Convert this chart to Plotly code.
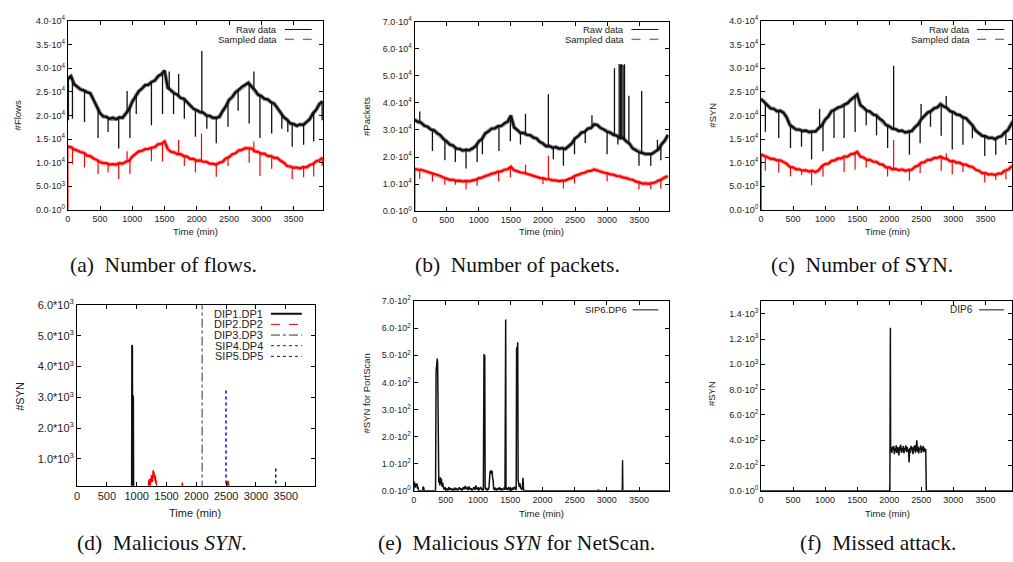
import plotly.graph_objects as go

W, H = 1013, 562


def fx(p):
    return p / W


def fy(p):
    return 1 - p / H


# ---------------- data ----------------
TIME_STEP_MIN = 50
TIME = [i * TIME_STEP_MIN for i in range(80)]  # 0 .. 3950 min

flows_raw = [27800, 28300, 26600, 26100, 25500, 25300, 24900, 24700, 23300, 21900,
             20500, 19800, 19700, 19300, 19500, 19200, 19600, 19500, 20400, 21300,
             22900, 24100, 25100, 25700, 26400, 26500, 27100, 27400, 28300, 28700,
             29500, 25900, 25300, 24700, 24400, 23700, 23500, 22800, 22300, 21400,
             21100, 20700, 20600, 20000, 19900, 19500, 19500, 19700, 20900, 21900,
             23300, 23900, 24900, 25400, 26100, 26500, 26900, 26100, 25400, 24400,
             24100, 23500, 23400, 22800, 22500, 21600, 20700, 19600, 19100, 18300,
             18200, 17800, 18100, 18000, 18600, 19200, 20400, 21200, 22400, 23000]
flows_sampled = [13400, 13300, 12800, 12600, 12200, 12100, 11500, 11400, 10900, 10600,
                 10100, 9900, 9900, 9600, 9700, 9600, 9900, 9800, 10200, 10400,
                 11300, 11800, 12400, 12500, 12900, 12900, 13200, 13300, 13900, 14000,
                 14500, 12900, 12300, 12200, 11800, 11800, 11400, 11300, 10800, 10800,
                 10400, 10500, 10200, 10200, 9800, 9800, 9600, 10000, 10200, 10900,
                 11200, 11800, 12000, 12600, 12700, 13100, 13000, 13000, 12400, 12300,
                 11900, 11900, 11400, 11400, 11000, 11000, 10400, 10000, 9300, 9200,
                 8900, 9000, 8800, 9100, 9000, 9500, 9700, 10300, 10500, 11100]
packets_raw = [33800, 33000, 32700, 31600, 31200, 30200, 29900, 28800, 28200, 26600,
               25800, 24600, 24200, 23100, 23000, 22400, 22700, 22500, 23200, 24000,
               25800, 26700, 28700, 29400, 30500, 30600, 31400, 31500, 32500, 33100,
               35300, 31000, 30000, 28900, 28900, 28200, 28100, 27200, 26900, 25600,
               25000, 24000, 24100, 23400, 23700, 23100, 23300, 23000, 24000, 25000,
               26900, 27700, 29000, 29300, 30500, 30800, 32100, 31800, 30700, 30200,
               29300, 29000, 28200, 27900, 27000, 27000, 25800, 24900, 23200, 22600,
               21700, 21500, 21100, 21100, 21200, 22000, 22800, 24700, 26100, 28200]
packets_sampled = [15700, 15300, 15300, 14900, 14700, 14100, 13900, 13300, 13100, 12400,
                   12100, 11600, 11600, 11200, 11300, 11000, 11200, 11000, 11400, 11600,
                   12200, 12400, 13000, 13300, 13900, 14100, 14600, 14700, 15300, 15500,
                   16400, 15100, 14800, 14300, 14200, 13800, 13600, 13000, 12800, 12300,
                   12200, 11800, 11800, 11400, 11400, 11100, 11300, 11300, 11900, 12300,
                   13100, 13400, 14000, 14200, 14800, 14900, 15400, 15000, 14800, 14200,
                   14100, 13600, 13500, 13000, 12900, 12400, 12300, 11800, 11600, 10900,
                   10700, 10200, 10300, 10100, 10400, 10600, 11300, 11700, 12500, 12900]
syn_raw = [23500, 22900, 22300, 21500, 21400, 20900, 21000, 20600, 19600, 18000,
           17500, 17000, 17000, 16700, 16800, 16500, 16600, 16600, 17300, 17900,
           19100, 19800, 20900, 21200, 21700, 21800, 22300, 22600, 23300, 23800,
           24400, 22200, 21700, 21000, 20800, 20200, 20000, 19300, 18900, 18000,
           17700, 17200, 17100, 16700, 16800, 16400, 16600, 16700, 17500, 18100,
           19200, 19800, 20600, 20900, 21500, 21700, 22400, 21900, 21600, 20900,
           20700, 20200, 20100, 19600, 19400, 18600, 17900, 16800, 16300, 15700,
           15600, 15200, 15300, 15000, 15400, 15600, 16400, 16900, 18100, 19100]
syn_sampled = [11800, 11400, 11200, 10800, 10800, 10500, 10500, 10100, 9800, 9100,
               9000, 8600, 8600, 8300, 8400, 8100, 8300, 8000, 8400, 9300,
               9700, 9800, 10400, 10500, 10900, 10900, 11300, 11300, 11800, 11900,
               12300, 11300, 11100, 10600, 10600, 10200, 10200, 9700, 9600, 9000,
               9000, 8600, 8700, 8400, 8600, 8300, 8500, 8500, 9100, 9400,
               10000, 10100, 10600, 10600, 11000, 11000, 11300, 10900, 10800, 10300,
               10400, 10000, 10000, 9600, 9600, 9200, 9100, 8500, 8300, 7800,
               7800, 7500, 7600, 7400, 7700, 7700, 8300, 8500, 9100, 9300]

# short spikes: time, level before the spike, spike extreme
flows_raw_spk_t = [10, 73, 260, 470, 625, 790, 920, 964, 1062, 1297, 1469, 1573, 1640, 1719, 1807, 1979,
                   2078, 2156, 2302, 2484, 2641, 2812, 2885, 2979, 3161, 3318, 3411, 3479, 3656, 3812, 3943]
flows_raw_spk_from = [27800, 27300, 25300, 21700, 19600, 19500, 20600, 21800, 24300, 27100, 28900, 25700,
                      24800, 24200, 23300, 21200, 20600, 20100, 19500, 23000, 25100, 26700, 25600, 24200,
                      22600, 20300, 19000, 18200, 18000, 20700, 22900]
flows_raw_spk_to = [19000, 19300, 18600, 15200, 16500, 13000, 25200, 15200, 20300, 17900, 20300, 29300,
                    20300, 28800, 19300, 15500, 33650, 17200, 14100, 17600, 21000, 18300, 29300, 15200,
                    16200, 17200, 16500, 13400, 13800, 14500, 19000]
flows_smp_spk_t = [3, 73, 260, 470, 625, 790, 920, 964, 1297, 1469, 1719, 1807, 1979, 2073, 2302, 2484,
                   2812, 2885, 2979, 3161, 3479, 3656, 3812, 3943]
flows_smp_spk_from = [13400, 13200, 12100, 10500, 9700, 9800, 10200, 10700, 13100, 14200, 11800, 11500,
                      10600, 10400, 9700, 11100, 13100, 12800, 12100, 11200, 9000, 8950, 9800, 10900]
flows_smp_spk_to = [0, 9650, 9000, 7600, 7900, 6550, 12400, 7600, 10300, 10300, 14800, 9300,
                    7900, 16200, 7000, 9300, 10000, 14500, 7200, 8700, 6550, 6900, 7100, 9300]

packets_raw_spk_t = [79, 277, 471, 634, 801, 974, 1056, 1314, 1492, 1649, 1728, 2084, 2162, 2319, 2492, 2660,
                     2764, 3000, 3115, 3168, 3188, 3208, 3228, 3250, 3272, 3340, 3497, 3539, 3681, 3785, 3838]
packets_raw_spk_from = [33000, 29900, 26200, 23700, 22500, 24800, 27200, 31300, 34000, 29100, 28500, 24000,
                        23600, 23100, 26500, 29600, 31800, 29400, 28300, 27800, 27500, 27400, 27200, 26900,
                        26700, 25500, 21800, 21500, 21000, 22300, 23900]
packets_raw_spk_to = [36800, 22200, 18800, 18200, 15800, 18200, 21000, 22200, 25800, 24600, 36000, 43200,
                      19200, 16800, 21000, 25200, 35400, 21000, 52800, 24600, 54400, 54200, 54400, 54000,
                      54300, 42600, 16800, 44400, 16800, 26400, 18800]
packets_smp_spk_t = [3, 79, 277, 471, 634, 801, 974, 1309, 1492, 1728, 2000, 2084, 2319, 2492, 3000, 3497,
                     3681, 3838]
packets_smp_spk_from = [15700, 15200, 13800, 12300, 11400, 11100, 11900, 14500, 16000, 14000, 12100, 11800,
                        11200, 12800, 14000, 10700, 10200, 11700]
packets_smp_spk_to = [0, 12000, 11000, 9800, 9800, 8000, 9400, 11000, 12500, 17200, 10000, 20400,
                      8400, 10200, 11000, 8000, 8200, 8300]

syn_raw_spk_t = [68, 277, 460, 632, 789, 914, 967, 1139, 1296, 1468, 1641, 1802, 1975, 2069, 2315, 2482,
                 2497, 2644, 2811, 2889, 2983, 3150, 3297, 3490, 3662, 3819]
syn_raw_spk_from = [22800, 20900, 17900, 16900, 16500, 17400, 18400, 21100, 22200, 24000, 21100, 19900,
                    18000, 17300, 16600, 18800, 19000, 21000, 22300, 21800, 20800, 19700, 17900, 15600,
                    15100, 16600]
syn_raw_spk_to = [16550, 15200, 13100, 13400, 10700, 21400, 12400, 15200, 15200, 16500, 17900, 15800,
                  13100, 30500, 11700, 14100, 22400, 17600, 15700, 24100, 12800, 13800, 15200, 11400,
                  11700, 13800]
syn_smp_spk_t = [3, 68, 277, 460, 632, 789, 967, 1296, 1468, 1641, 1975, 2069, 2315, 2482, 2811, 2889,
                 2983, 3150, 3490, 3662, 3819]
syn_smp_spk_from = [11800, 11400, 10500, 9100, 8500, 8200, 9400, 11200, 12100, 10700, 9000, 8700,
                    8400, 9700, 11200, 10800, 10300, 9700, 7700, 7500, 8000]
syn_smp_spk_to = [0, 8300, 7900, 7100, 7400, 5200, 7000, 8000, 8500, 9000, 7100, 14800,
                  6200, 7800, 8300, 12000, 7500, 8000, 5800, 6400, 6500]

# (d) malicious SYN per flow aggregate
dip1_t = [0, 918, 922, 926, 930, 934, 938, 942, 946, 950, 3990]
dip1_v = [0, 0, 4700, 4650, 400, 2300, 3060, 2950, 300, 0, 0]
dip2_t = [0, 1195, 1200, 1206, 1212, 1218, 1224, 1230, 1236, 1242, 1248, 1254, 1260, 1266, 1272, 1278,
          1284, 1290, 1296, 1302, 1308, 1314, 1320, 1326, 1332, 1340, 1750, 1758, 1766, 1774, 1782,
          2520, 2526, 2532, 2538, 2544, 3990]
dip2_v = [0, 0, 300, 120, 340, 180, 260, 90, 380, 230, 470, 300, 420, 250, 560, 630,
          430, 580, 350, 500, 280, 450, 200, 310, 150, 0, 0, 120, 230, 80, 0,
          0, 280, 180, 260, 0, 0]
dip3_t = [2097, 2097]
dip3_v = [0, 6500]
sip4_t = [2497, 2497]
sip4_v = [0, 3320]
sip5_t = [3331, 3331]
sip5_v = [0, 765]

# (e) SIP6.DP6
scan_t = [0, 5, 12, 20, 28, 36, 44, 52, 60, 68, 76, 140, 145, 155, 165, 340, 348, 354, 360, 366, 372,
          378, 384, 390, 398, 406, 414, 422, 430, 440, 450, 460,
          470, 485, 500, 515, 530, 545, 560, 575, 590, 605, 620, 635, 650, 665, 680, 695, 710, 725, 740,
          755, 770, 785, 800, 815, 830, 845, 860, 875, 890, 905, 920, 935, 950, 965, 980, 995, 1010,
          1025, 1040, 1055, 1070, 1082, 1086, 1092, 1098, 1104, 1110, 1120, 1130, 1140, 1150, 1160,
          1170, 1178, 1186, 1194, 1202, 1210, 1218, 1226, 1234, 1242, 1255, 1270, 1285, 1300, 1315,
          1330, 1345, 1360, 1375, 1390, 1405, 1418, 1424, 1429, 1434, 1445, 1460, 1475, 1490, 1505,
          1520, 1535, 1550, 1565, 1580, 1592, 1598, 1604, 1610, 1616, 1622, 1630, 1640, 1650, 1660,
          1670, 1680, 1690, 1698, 1705, 1712, 2860, 2870, 2880, 3240, 3244, 3248, 3990]
scan_v = [0, 35, 20, 30, 12, 25, 18, 28, 8, 15, 0, 0, 15, 12, 0, 0, 440, 462, 480, 488, 470,
          120, 95, 30, 42, 20, 50, 25, 45, 15, 30, 10,
          5, 12, 3, 9, 0, 14, 4, 10, 2, 8, 0, 12, 5, 10, 0, 7, 13, 3, 9,
          0, 14, 6, 18, 8, 12, 2, 16, 5, 10, 0, 8, 13, 4, 20, 6, 11, 2,
          9, 14, 3, 8, 0, 480, 505, 470, 500, 10, 5, 12, 0, 8, 4,
          15, 55, 72, 68, 76, 62, 74, 48, 40, 8, 3, 12, 0, 9, 4,
          13, 2, 10, 0, 7, 12, 3, 600, 632, 5, 10, 2, 14, 5, 9,
          0, 12, 4, 15, 8, 3, 520, 530, 510, 548, 40, 30, 15, 28, 8,
          12, 2, 20, 48, 10, 0, 0, 5, 0, 0, 113, 0, 0]

# (f) DIP6 (missed attack)
dip6_t = [0, 2010, 2018, 2022, 2030, 2040, 2050, 2060, 2070, 2080, 2090, 2100, 2110, 2120, 2130, 2140,
          2150, 2160, 2170, 2180, 2190, 2200, 2210, 2220, 2230, 2240, 2250, 2260, 2270, 2280, 2290,
          2300, 2310, 2320, 2330, 2340, 2350, 2360, 2370, 2380, 2390, 2400, 2410, 2420, 2430, 2440,
          2450, 2460, 2470, 2480, 2490, 2500, 2510, 2520, 2530, 2540, 2550, 2560, 2570, 2578, 3990]
dip6_v = [0, 0, 1290, 310, 340, 300, 350, 320, 355, 290, 340, 310, 360, 300, 345, 330,
          280, 350, 320, 365, 300, 340, 310, 355, 295, 340, 320, 360, 305, 345, 310,
          330, 225, 340, 300, 355, 320, 345, 290, 350, 315, 360, 300, 340, 400, 310,
          350, 295, 340, 325, 360, 300, 345, 315, 355, 305, 340, 320, 330, 0, 0]

X_TICKS = [0, 500, 1000, 1500, 2000, 2500, 3000, 3500]
Y_TICKS_A = [0, 5000, 10000, 15000, 20000, 25000, 30000, 35000, 40000]
Y_TEXT_A = ["0.0·10<sup>0</sup>", "5.0·10<sup>3</sup>", "1.0·10<sup>4</sup>", "1.5·10<sup>4</sup>",
            "2.0·10<sup>4</sup>", "2.5·10<sup>4</sup>", "3.0·10<sup>4</sup>", "3.5·10<sup>4</sup>",
            "4.0·10<sup>4</sup>"]
Y_TICKS_B = [0, 10000, 20000, 30000, 40000, 50000, 60000, 70000]
Y_TEXT_B = ["0.0·10<sup>0</sup>", "1.0·10<sup>4</sup>", "2.0·10<sup>4</sup>", "3.0·10<sup>4</sup>",
            "4.0·10<sup>4</sup>", "5.0·10<sup>4</sup>", "6.0·10<sup>4</sup>", "7.0·10<sup>4</sup>"]
Y_TICKS_D = [1000, 2000, 3000, 4000, 5000, 6000]
Y_TEXT_D = ["1.0*10<sup>3</sup>", "2.0*10<sup>3</sup>", "3.0*10<sup>3</sup>", "4.0*10<sup>3</sup>",
            "5.0*10<sup>3</sup>", "6.0*10<sup>3</sup>"]
Y_TICKS_E = [0, 100, 200, 300, 400, 500, 600, 700]
Y_TEXT_E = ["0.0·10<sup>0</sup>", "1.0·10<sup>2</sup>", "2.0·10<sup>2</sup>", "3.0·10<sup>2</sup>",
            "4.0·10<sup>2</sup>", "5.0·10<sup>2</sup>", "6.0·10<sup>2</sup>", "7.0·10<sup>2</sup>"]
Y_TICKS_F = [0, 200, 400, 600, 800, 1000, 1200, 1400]
Y_TEXT_F = ["0.0·10<sup>0</sup>", "2.0·10<sup>2</sup>", "4.0·10<sup>2</sup>", "6.0·10<sup>2</sup>",
            "8.0·10<sup>2</sup>", "1.0·10<sup>3</sup>", "1.2·10<sup>3</sup>", "1.4·10<sup>3</sup>"]

# ---------------- figure ----------------
SANS = "Liberation Sans, Arial, Helvetica, sans-serif"
SERIF = "Liberation Serif, Times New Roman, serif"
TXT = "#222222"
RED = "#ff0000"

fig = go.Figure()


def spikes(ts, fr, to):
    xs, ys = [], []
    for t, a, b in zip(ts, fr, to):
        xs += [t, t, None]
        ys += [a, b, None]
    return xs, ys


def add_line(x, y, ax, color, width, dash="solid"):
    fig.add_trace(go.Scatter(x=x, y=y, mode="lines", xaxis="x" + ax, yaxis="y" + ax,
                             line=dict(color=color, width=width, dash=dash),
                             showlegend=False, hoverinfo="skip"))


top = [("", flows_raw, flows_sampled,
        (flows_raw_spk_t, flows_raw_spk_from, flows_raw_spk_to),
        (flows_smp_spk_t, flows_smp_spk_from, flows_smp_spk_to)),
       ("2", packets_raw, packets_sampled,
        (packets_raw_spk_t, packets_raw_spk_from, packets_raw_spk_to),
        (packets_smp_spk_t, packets_smp_spk_from, packets_smp_spk_to)),
       ("3", syn_raw, syn_sampled,
        (syn_raw_spk_t, syn_raw_spk_from, syn_raw_spk_to),
        (syn_smp_spk_t, syn_smp_spk_from, syn_smp_spk_to))]

for ax, raw, smp, rs, ss in top:
    add_line(TIME, raw, ax, "#9a9a9a", 4.2)
    add_line(TIME, raw, ax, "#111111", 2.4)
    sx, sy = spikes(*rs)
    add_line(sx, sy, ax, "#111111", 1.3)
    add_line(TIME, smp, ax, "#ff9a9a", 4.0)
    add_line(TIME, smp, ax, RED, 2.2)
    sx, sy = spikes(*ss)
    add_line(sx, sy, ax, RED, 1.2)

add_line(dip2_t, dip2_v, "4", RED, 1.3)
add_line(dip1_t, dip1_v, "4", "#111111", 1.8)
add_line(dip3_t, dip3_v, "4", "#333333", 1.0, "dashdot")
add_line(sip4_t, sip4_v, "4", "#0000ff", 1.5, "dot")
add_line(sip5_t, sip5_v, "4", "#111111", 1.5, "dot")
add_line(scan_t, scan_v, "5", "#111111", 1.5)
add_line(dip6_t, dip6_v, "6", "#111111", 1.5)

# panel geometry in pixels: left, right, top, bottom
panels = {
    "": dict(x=(65, 321.5), y=(13.3, 206.7), xr=3960, yr=(0, 40000), yt=(Y_TICKS_A, Y_TEXT_A), fs=9),
    "2": dict(x=(413.3, 668.3), y=(14, 208), xr=3960, yr=(0, 70000), yt=(Y_TICKS_B, Y_TEXT_B), fs=9),
    "3": dict(x=(761, 1013), y=(13.3, 206.7), xr=3915, yr=(0, 40000), yt=(Y_TICKS_A, Y_TEXT_A), fs=9),
    "4": dict(x=(74.3, 313.3), y=(304, 489), xr=3990, yr=(127, 6000), yt=(Y_TICKS_D, Y_TEXT_D), fs=11),
    "5": dict(x=(412.3, 668.3), y=(300, 494.3), xr=3960, yr=(0, 700), yt=(Y_TICKS_E, Y_TEXT_E), fs=9),
    "6": dict(x=(761, 1013), y=(300, 494.3), xr=3915, yr=(0, 1500), yt=(Y_TICKS_F, Y_TEXT_F), fs=9),
}

layout = {}
for ax, p in panels.items():
    common = dict(showline=True, linecolor="black", linewidth=1, mirror="ticks", ticks="inside",
                  ticklen=4, tickwidth=1, tickcolor="black", showgrid=False, zeroline=False,
                  tickfont=dict(family=SANS, size=p["fs"], color=TXT), fixedrange=True)
    layout["xaxis" + ax] = dict(common, domain=[fx(p["x"][0]), fx(p["x"][1])], range=[0, p["xr"]],
                                tickvals=X_TICKS, ticktext=[str(v) for v in X_TICKS],
                                anchor="y" + ax)
    layout["yaxis" + ax] = dict(common, domain=[fy(p["y"][1]), fy(p["y"][0])], range=list(p["yr"]),
                                tickvals=p["yt"][0], ticktext=p["yt"][1], anchor="x" + ax)

annotations = []
shapes = []


def text(x, y, s, size, family=SANS, anchor="center", angle=0, color=TXT):
    annotations.append(dict(x=fx(x), y=fy(y), xref="paper", yref="paper", text=s, showarrow=False,
                            xanchor=anchor, yanchor="middle", textangle=angle,
                            font=dict(family=family, size=size, color=color)))


def legend_line(x0, x1, y, color, width, dash):
    shapes.append(dict(type="line", xref="paper", yref="paper", x0=fx(x0), x1=fx(x1), y0=fy(y), y1=fy(y),
                       line=dict(color=color, width=width, dash=dash)))


# axis titles
for cx, cy, s, fs in [(15, 110, "#Flows", 9.5), (365, 111, "#Packets", 9.5), (712, 110, "#SYN", 9.5),
                      (17, 397, "#SYN", 11), (365, 395, "#SYN for PortScan", 9.5), (712, 395, "#SYN", 9.5)]:
    text(cx, cy, s, fs, angle=-90)
for cx, cy, fs in [(193, 229, 9.5), (541, 229, 9.5), (888, 229, 9.5),
                   (193, 517, 11), (541, 517, 9.5), (888, 517, 9.5)]:
    text(cx, cy, "Time (min)", fs)

# legends (text, then line sample, gnuplot style)
for tx, lx0, lx1 in [(277, 283, 310), (625, 631, 658), (973, 978, 1005)]:
    text(tx, 22, "Raw data", 9.5, anchor="right")
    text(tx, 32, "Sampled data", 9.5, anchor="right")
    legend_line(lx0, lx1, 22, "#111111", 1, "solid")
    legend_line(lx0, lx1, 32, RED, 1, "dash")

leg_d = [("DIP1.DP1", "#111111", 2, "solid"), ("DIP2.DP2", RED, 1, "dash"),
         ("DIP3.DP3", "#333333", 1, "dashdot"), ("SIP4.DP4", "#0000ff", 1, "dot"),
         ("SIP5.DP5", "#111111", 1, "dot")]
for i, (name, col, wdt, dsh) in enumerate(leg_d):
    yy = 313 + i * 10.9
    text(263, yy, name, 11, anchor="right")
    legend_line(269, 300, yy, col, wdt, dsh)

text(628, 309, "SIP6.DP6", 9.5, anchor="right")
legend_line(632, 658, 309, "#111111", 1, "solid")
text(976, 309, "DIP6", 10, anchor="right")
legend_line(980, 1005, 309, "#111111", 1, "solid")

# captions
for cx, cy, s in [(161, 263, "(a)  Number of flows."), (517, 263, "(b)  Number of packets."),
                  (862, 263, "(c)  Number of SYN."), (160, 548, "(d)  Malicious <i>SYN</i>."),
                  (516, 548, "(e)  Malicious <i>SYN</i> for NetScan."), (878, 548, "(f)  Missed attack.")]:
    text(cx, cy, s, 21.5, family=SERIF, color="#111111")

fig.update_layout(width=W, height=H, margin=dict(l=0, r=0, t=0, b=0), paper_bgcolor="white",
                  plot_bgcolor="white", showlegend=False, annotations=annotations, shapes=shapes,
                  **layout)

fig.write_html("out.html", include_plotlyjs=True, config={"displayModeBar": False})
